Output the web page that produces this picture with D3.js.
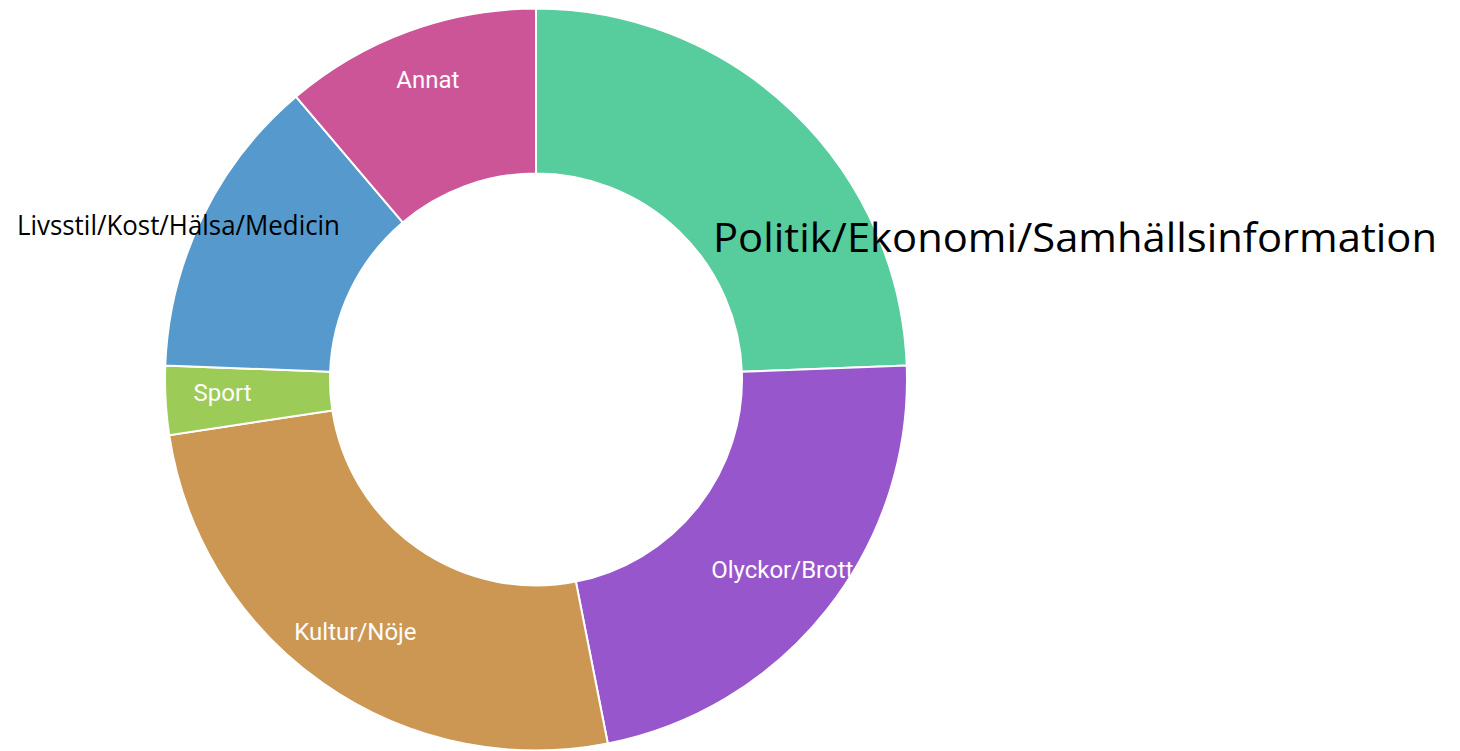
<!DOCTYPE html>
<html>
<head>
<meta charset="utf-8">
<script src="https://cdn.jsdelivr.net/npm/d3@7"></script>
<style>
  html, body { margin: 0; padding: 0; background: #fff; }
  svg { display: block; }
</style>
</head>
<body>
<script>
  // slice data, clockwise from 12 o'clock
  const categories = ["Politik/Ekonomi/Samhällsinformation", "Olyckor/Brott", "Kultur/Nöje",
                      "Sport", "Livsstil/Kost/Hälsa/Medicin", "Annat"];
  const values = [24.4, 22.5, 25.7, 3.0, 13.2, 11.2];
  const colors = ["#57cc9d", "#9856cc", "#cc9752", "#9ccc57", "#5699cc", "#cc5598"];
  // which slices get the small white label inside the ring
  const innerLabels = ["Olyckor/Brott", "Kultur/Nöje", "Sport", "Annat"];
  // big black labels laid on top
  const overlayLabels = ["Livsstil/Kost/Hälsa/Medicin", "Politik/Ekonomi/Samhällsinformation"];

  const width = 1460, height = 751;
  const cx = 536, cy = 379.5;
  const outerR = 371, innerR = 206;

  const svg = d3.select("body").append("svg")
    .attr("width", width)
    .attr("height", height);

  const g = svg.append("g")
    .attr("transform", "translate(" + cx + "," + cy + ")");

  const pie = d3.pie().sort(null).value(d => d.value);
  const data = categories.map((c, i) => ({ name: c, value: values[i], color: colors[i] }));
  const arcs = pie(data);

  const arc = d3.arc().innerRadius(innerR).outerRadius(outerR);
  const labelArc = d3.arc().innerRadius(314).outerRadius(314);

  g.selectAll("path.slice")
    .data(arcs)
    .enter()
    .append("path")
    .attr("class", "slice")
    .attr("d", arc)
    .attr("fill", d => d.data.color)
    .attr("stroke", "#fff")
    .attr("stroke-width", 2);

  g.selectAll("text.inner")
    .data(arcs.filter(d => innerLabels.includes(d.data.name)))
    .enter()
    .append("text")
    .attr("class", "inner")
    .attr("transform", d => "translate(" + labelArc.centroid(d) + ")")
    .attr("y", -5)
    .attr("text-anchor", "middle")
    .attr("dy", "0.35em")
    .style("font-family", "Roboto, sans-serif")
    .style("font-size", "24px")
    .style("fill", "#fdfdfd")
    .text(d => d.data.name);

  // overlay text (sits on top of the chart, like a slide annotation)
  svg.append("text")
    .attr("x", 17)
    .attr("y", 235)
    .attr("textLength", 323)
    .attr("lengthAdjust", "spacingAndGlyphs")
    .style("font-family", "'Open Sans', sans-serif")
    .style("font-size", "27px")
    .style("fill", "#000")
    .text(overlayLabels[0]);

  svg.append("text")
    .attr("x", 713)
    .attr("y", 252)
    .attr("textLength", 724)
    .attr("lengthAdjust", "spacingAndGlyphs")
    .style("font-family", "'Open Sans', sans-serif")
    .style("font-size", "41px")
    .style("fill", "#000")
    .text(overlayLabels[1]);
</script>
</body>
</html>
